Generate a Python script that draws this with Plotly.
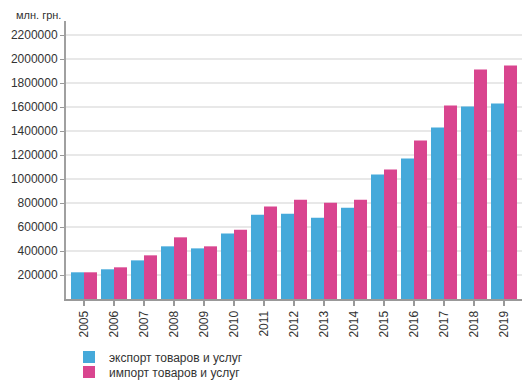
import plotly.graph_objects as go

years = ["2005", "2006", "2007", "2008", "2009", "2010", "2011", "2012",
         "2013", "2014", "2015", "2016", "2017", "2018", "2019"]
export_vals = [222500, 247500, 322000, 439000, 422000, 545000, 703000, 711000,
               678000, 761000, 1037000, 1171000, 1429000, 1604000, 1629000]
import_vals = [222500, 264000, 364000, 514000, 439000, 578000, 770000, 828000,
               803000, 828000, 1079000, 1321000, 1612000, 1912000, 1946000]
y_ticks = [200000, 400000, 600000, 800000, 1000000, 1200000, 1400000,
           1600000, 1800000, 2000000, 2200000]

export_name = "экспорт товаров и услуг"
import_name = "импорт товаров и услуг"
unit_label = "млн. грн."

# page body has an 8px margin, so the figure is sized to fit the viewport
W, H = 524, 377

fig = go.Figure()
fig.add_trace(go.Bar(x=years, y=export_vals, name=export_name, legend="legend",
                     marker=dict(color="#45A9DA", line=dict(width=0))))
fig.add_trace(go.Bar(x=years, y=import_vals, name=import_name, legend="legend2",
                     marker=dict(color="#D9458F", line=dict(width=0))))

legend_common = dict(orientation="v", xref="container", yref="container",
                     xanchor="left", yanchor="middle",
                     font=dict(size=12, color="#333333"), itemwidth=30,
                     bgcolor="rgba(0,0,0,0)")

fig.update_layout(
    width=W, height=H,
    margin=dict(l=58, r=10, t=13, b=86, autoexpand=False),
    plot_bgcolor="white", paper_bgcolor="white",
    barmode="group", bargap=0.133, bargroupgap=0,
    font=dict(family="Liberation Sans, Arial, sans-serif", size=12, color="#333333"),
    showlegend=True,
    legend=dict(legend_common, x=61 / W, y=(H - 349) / H),
    legend2=dict(legend_common, x=61 / W, y=(H - 364) / H),
    xaxis=dict(type="category", range=[-0.6, 14.6], tickangle=-90, ticks="outside",
               ticklen=5, tickwidth=2, tickcolor="#999999", showline=True,
               linecolor="#999999", linewidth=2, showgrid=False, automargin=False,
               tickfont=dict(size=12, color="#333333")),
    yaxis=dict(range=[0, 2317000], tickvals=y_ticks, ticks="outside", ticklen=4,
               tickwidth=1, tickcolor="#999999", showline=True, linecolor="#a0a0a0",
               linewidth=2, showgrid=True, gridcolor="#e8e8e8", gridwidth=2,
               zeroline=False, tickformat="d", automargin=False,
               tickfont=dict(size=12, color="#333333")),
    annotations=[dict(text=unit_label, xref="paper", yref="paper",
                      x=-52 / 456, y=1.022, xanchor="left", yanchor="middle",
                      showarrow=False, font=dict(size=11, color="#333333"))],
)

fig.write_html("out.html")
